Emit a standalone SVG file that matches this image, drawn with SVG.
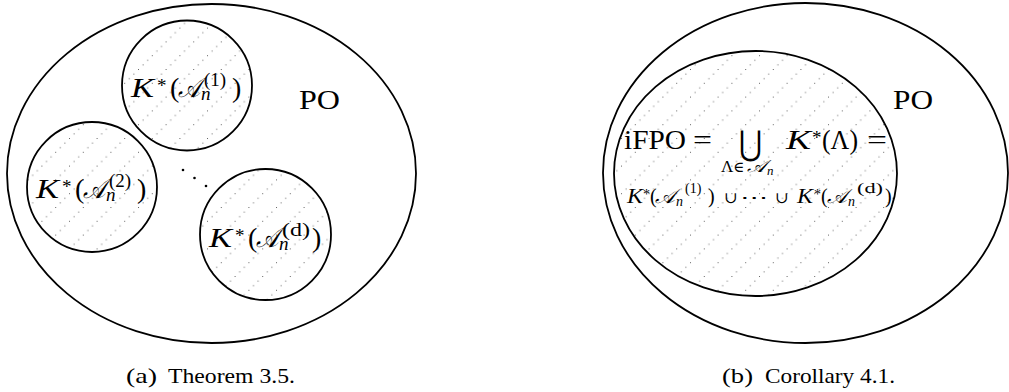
<svg xmlns="http://www.w3.org/2000/svg" width="1009" height="392" viewBox="0 0 1009 392">
<style>
text{font-family:'Liberation Serif',serif;fill:#000}
.i{font-style:italic}
.b{font-size:28px}
.s{font-size:19px}
.c{font-family:'DejaVu Serif','DejaVu Sans',serif}
.ln{stroke:#000;stroke-width:1.8}
</style>
<defs>
<pattern id="dots" patternUnits="userSpaceOnUse" x="0" y="0" width="27.6" height="27.6">
<g fill="#666">
<rect x="0" y="13.8" width="1" height="1"/>
<rect x="4.6" y="9.2" width="1" height="1"/>
<rect x="9.2" y="4.6" width="1" height="1"/>
<rect x="13.8" y="0" width="1" height="1"/>
<rect x="18.4" y="23" width="1" height="1"/>
<rect x="23" y="18.4" width="1" height="1"/>
</g>
</pattern>
</defs>
<rect width="1009" height="392" fill="#fff"/>

<g id="connectors"/>

<g id="po-a">
<ellipse class="ln" cx="211.5" cy="173.5" rx="204.5" ry="169.5" fill="none"/>
<text class="b" x="299" y="109" textLength="41" lengthAdjust="spacingAndGlyphs">PO</text>
</g>

<g id="k1">
<circle class="ln" cx="187" cy="85.5" r="65" fill="url(#dots)"/>
<g transform="translate(130,97)">
<text class="b i" x="1" y="0" textLength="23" lengthAdjust="spacingAndGlyphs">K</text>
<text class="s" x="27" y="-5">*</text>
<text class="b" x="40" y="0">(</text>
<text class="c b i" x="48" y="0" textLength="22" lengthAdjust="spacingAndGlyphs">𝒜</text>
<text class="s i" x="71" y="3">n</text>
<text class="s" x="74" y="-11">(1)</text>
<text class="b" x="102" y="0">)</text>
</g>
</g>

<g id="k2">
<circle class="ln" cx="92" cy="187" r="65" fill="url(#dots)"/>
<g transform="translate(35,198)">
<text class="b i" x="1" y="0" textLength="23" lengthAdjust="spacingAndGlyphs">K</text>
<text class="s" x="27" y="-5">*</text>
<text class="b" x="40" y="0">(</text>
<text class="c b i" x="48" y="0" textLength="22" lengthAdjust="spacingAndGlyphs">𝒜</text>
<text class="s i" x="71" y="3">n</text>
<text class="s" x="74" y="-11">(2)</text>
<text class="b" x="102" y="0">)</text>
</g>
</g>

<g id="dots-ellipsis">
<circle cx="183" cy="170" r="1.3" fill="#000"/>
<circle cx="194.5" cy="178" r="1.3" fill="#000"/>
<circle cx="206" cy="186" r="1.3" fill="#000"/>
</g>

<g id="kd">
<circle class="ln" cx="265.5" cy="234.5" r="65.5" fill="url(#dots)"/>
<g transform="translate(208,247)">
<text class="b i" x="1" y="0" textLength="23" lengthAdjust="spacingAndGlyphs">K</text>
<text class="s" x="27" y="-5">*</text>
<text class="b" x="40" y="0">(</text>
<text class="c b i" x="48" y="0" textLength="22" lengthAdjust="spacingAndGlyphs">𝒜</text>
<text class="s i" x="71" y="3">n</text>
<text class="s" x="74" y="-11" textLength="28" lengthAdjust="spacingAndGlyphs">(d)</text>
<text class="b" x="104" y="0">)</text>
</g>
</g>

<g id="caption-a">
<text x="126" y="383" font-size="22" textLength="31" lengthAdjust="spacingAndGlyphs">(a)</text>
<text x="168" y="383" font-size="22" textLength="127" lengthAdjust="spacingAndGlyphs">Theorem 3.5.</text>
</g>

<g id="po-b">
<ellipse class="ln" cx="805.5" cy="173" rx="202.5" ry="170" fill="none"/>
<text class="b" x="893" y="109" textLength="40" lengthAdjust="spacingAndGlyphs">PO</text>
</g>

<g id="ifpo">
<ellipse class="ln" cx="755.5" cy="173.5" rx="141.5" ry="122.5" fill="url(#dots)"/>
<text class="b" x="624" y="149" textLength="62" lengthAdjust="spacingAndGlyphs">iFPO</text>
<text class="b" x="693" y="149" textLength="19" lengthAdjust="spacingAndGlyphs">=</text>
<text class="c" x="739" y="155" font-size="34" textLength="23" lengthAdjust="spacingAndGlyphs">⋃</text>
<text x="721" y="172" font-size="17">Λ</text>
<text class="c" x="733" y="172" font-size="15">∈</text>
<text class="c i" x="747" y="172" font-size="17" textLength="19" lengthAdjust="spacingAndGlyphs">𝒜</text>
<text class="i" x="767" y="175" font-size="13">n</text>
<text class="b i" x="786" y="149" textLength="25" lengthAdjust="spacingAndGlyphs">K</text>
<text class="s" x="812" y="144">*</text>
<text class="b" x="822" y="149" textLength="36" lengthAdjust="spacingAndGlyphs">(Λ)</text>
<text class="b" x="867" y="149" textLength="20" lengthAdjust="spacingAndGlyphs">=</text>
<g font-size="20">
<text class="i" x="627" y="203" textLength="16" lengthAdjust="spacingAndGlyphs">K</text>
<text x="643" y="199" font-size="14">*</text>
<text x="650" y="203">(</text>
<text class="c i" x="655" y="203" textLength="20" lengthAdjust="spacingAndGlyphs">𝒜</text>
<text class="i" x="676" y="206" font-size="14">n</text>
<text x="685" y="193" font-size="14">(1)</text>
<text x="708" y="203">)</text>
<text class="c" x="724" y="203" font-size="16">∪</text>
<text class="c" x="740" y="203" font-size="16" textLength="28" lengthAdjust="spacingAndGlyphs">⋯</text>
<text class="c" x="775" y="203" font-size="16">∪</text>
<text class="i" x="797" y="203" textLength="16" lengthAdjust="spacingAndGlyphs">K</text>
<text x="814" y="199" font-size="14">*</text>
<text x="821" y="203">(</text>
<text class="c i" x="827" y="203" textLength="20" lengthAdjust="spacingAndGlyphs">𝒜</text>
<text class="i" x="848" y="206" font-size="14">n</text>
<text x="857" y="193" font-size="14" textLength="26" lengthAdjust="spacingAndGlyphs">(d)</text>
<text x="885" y="203">)</text>
</g>
</g>

<g id="caption-b">
<text x="722" y="383" font-size="22" textLength="31" lengthAdjust="spacingAndGlyphs">(b)</text>
<text x="765" y="383" font-size="22" textLength="130" lengthAdjust="spacingAndGlyphs">Corollary 4.1.</text>
</g>
</svg>
